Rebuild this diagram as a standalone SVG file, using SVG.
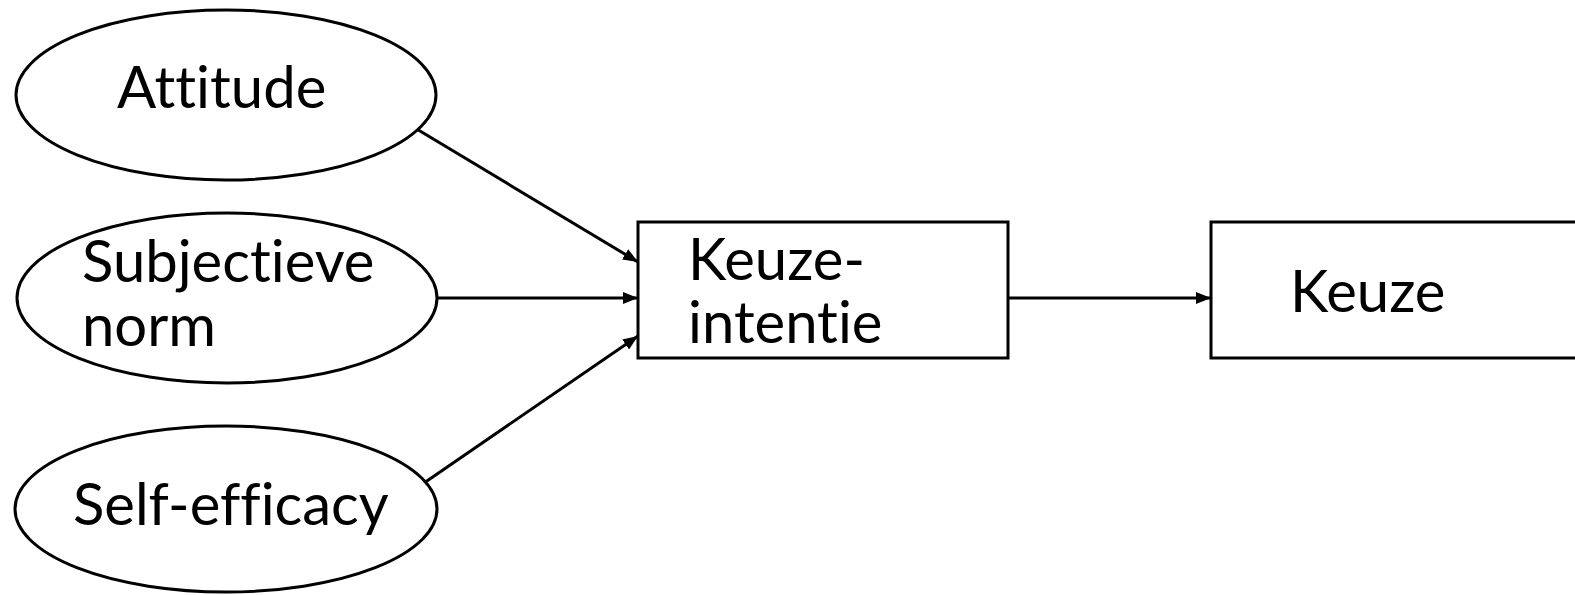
<svg xmlns="http://www.w3.org/2000/svg" width="1575" height="595" viewBox="0 0 1575 595">
<style>
.shape{fill:#fff;stroke:#000;stroke-width:3}
.lbl{font-family:Lato,"Open Sans",sans-serif;font-size:58px;fill:#000;font-variant-ligatures:none;font-feature-settings:"liga" 0,"clig" 0}
.conn{stroke:#000;stroke-width:3;fill:none;marker-end:url(#ah)}
</style>
<defs>
<marker id="ah" viewBox="0 0 15 12" refX="15" refY="6" markerWidth="15" markerHeight="12" markerUnits="userSpaceOnUse" orient="auto">
<path d="M0,0 L15,6 L0,12 z" fill="#000"/>
</marker>
</defs>
<rect width="1575" height="595" fill="#fff"/>
<g id="connectors">
<line class="conn" x1="415" y1="128" x2="638" y2="262"/>
<line class="conn" x1="437" y1="298" x2="638" y2="298"/>
<line class="conn" x1="424" y1="483" x2="638" y2="336"/>
<line class="conn" x1="1008" y1="298" x2="1211" y2="298"/>
</g>
<g id="attitude">
<ellipse class="shape" cx="226" cy="95" rx="210" ry="85"/>
<text class="lbl" x="117" y="108">Attitude</text>
</g>
<g id="subjectieve-norm">
<ellipse class="shape" cx="227" cy="298" rx="210" ry="85"/>
<text class="lbl"><tspan x="82" y="282">Subjectieve</tspan><tspan x="82" y="346">norm</tspan></text>
</g>
<g id="self-efficacy">
<ellipse class="shape" cx="226" cy="509" rx="211" ry="83"/>
<text class="lbl" x="73" y="525">Self-efficacy</text>
</g>
<g id="keuze-intentie">
<rect class="shape" x="638" y="222" width="370" height="136"/>
<text class="lbl"><tspan x="688" y="280">Keuze-</tspan><tspan x="688" y="343">intentie</tspan></text>
</g>
<g id="keuze">
<rect class="shape" x="1211" y="222" width="370" height="136"/>
<text class="lbl" x="1290" y="312">Keuze</text>
</g>
</svg>
